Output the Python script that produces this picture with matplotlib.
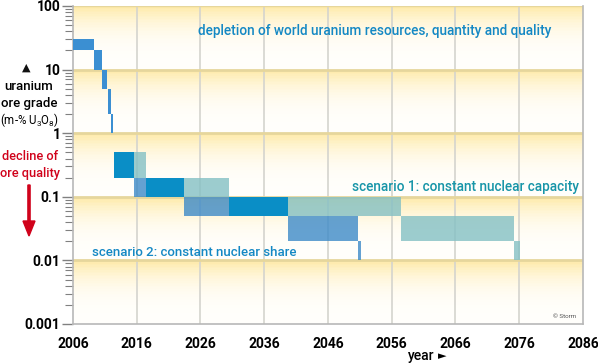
import numpy as np
import matplotlib
matplotlib.use('Agg')
import matplotlib.pyplot as plt
from matplotlib.colors import to_rgb

plt.rcParams['font.family'] = ['Roboto', 'DejaVu Sans']
plt.rcParams['mathtext.fontset'] = 'custom'
plt.rcParams['mathtext.rm'] = 'Roboto'

# early years, common to both scenarios: (start, end, low, high)
inicio_x0 = [2006.0, 2009.3, 2010.5, 2011.5, 2011.9]
inicio_x1 = [2009.3, 2010.5, 2011.4, 2011.9, 2012.2]
inicio_lo = [20, 10, 5, 2, 1]
inicio_hi = [30, 20, 10, 5, 2]

# both scenarios overlapping (dark blue)
comun_x0 = [2012.4, 2017.4, 2030.5]
comun_x1 = [2015.5, 2023.4, 2039.8]
comun_lo = [0.2, 0.1, 0.05]
comun_hi = [0.5, 0.2, 0.1]

# scenario 1: constant nuclear capacity
esc1_x0 = [2015.5, 2023.4, 2039.8, 2057.4, 2075.2]
esc1_x1 = [2017.4, 2030.5, 2057.4, 2075.2, 2076.1]
esc1_lo = [0.2, 0.1, 0.05, 0.02, 0.01]
esc1_hi = [0.5, 0.2, 0.1, 0.05, 0.02]

# scenario 2: constant nuclear share
esc2_x0 = [2015.5, 2023.4, 2039.8, 2050.7]
esc2_x1 = [2017.4, 2030.5, 2050.7, 2051.2]
esc2_lo = [0.1, 0.05, 0.02, 0.01]
esc2_hi = [0.2, 0.1, 0.05, 0.02]

anios = [2006, 2016, 2026, 2036, 2046, 2056, 2066, 2076, 2086]
decadas = [0.001, 0.01, 0.1, 1, 10, 100]
etiquetas_y = ['0.001', '0.01', '0.1', '1', '10', '100']

fig = plt.figure(figsize=(5.98, 3.64), dpi=100)
ax = fig.add_axes([73 / 598, 1 - 324 / 364, 510 / 598, 318 / 364])
ax.set_yscale('log')
ax.set_xlim(2006, 2086)
ax.set_ylim(0.001, 100)

# yellow gradient in every decade band (yellow on top, white below)
amarillo = np.array(to_rgb('#fee9a6'))
blanco = np.array(to_rgb('#fffefb'))
n = 40
for d in range(-3, 2):
    for k in range(n):
        t0 = d + k / n
        t1 = d + (k + 1) / n
        f = ((k + 0.5) / n) ** 3
        c = blanco + (amarillo - blanco) * f
        ax.axhspan(10 ** t0, 10 ** t1, color=c, lw=0, zorder=0)

for a in anios[1:-1]:
    ax.axvline(a, color='#d4d4ce', lw=1.2, zorder=1)
for d in decadas[1:-1]:
    ax.axhline(d, color='#e6d69c', lw=2, zorder=1)
ax.axhline(100, color='#e6d69c', lw=1, zorder=1)


def barras(x0, x1, lo, hi, color, alpha, z):
    for a, b, l, h in zip(x0, x1, lo, hi):
        ax.bar(a, h - l, width=b - a, bottom=l, align='edge', color=color,
               alpha=alpha, lw=0, zorder=z)


barras(inicio_x0, inicio_x1, inicio_lo, inicio_hi, '#3b8fd2', 1.0, 3)
barras(esc1_x0, esc1_x1, esc1_lo, esc1_hi, '#84c0c4', 0.8, 3)
barras(esc2_x0, esc2_x1, esc2_lo, esc2_hi, '#3d8ac8', 0.8, 3)
barras(comun_x0, comun_x1, comun_lo, comun_hi, '#0a8ec6', 1.0, 4)

ax.set_xticks(anios)
ax.set_xticklabels([str(a) for a in anios], fontsize=10, fontweight='bold')
ax.set_yticks(decadas)
ax.set_yticklabels(etiquetas_y, fontsize=10, fontweight='bold')
ax.tick_params(axis='x', length=0, pad=9)
ax.tick_params(axis='y', which='major', length=8, width=1, color='#808080', pad=1)
ax.tick_params(axis='y', which='minor', length=6, width=0.8, color='#808080')
ax.spines['top'].set_visible(False)
for s in ['left', 'bottom', 'right']:
    ax.spines[s].set_color('#b8b8b8')
    ax.spines[s].set_linewidth(1.2)

ax.text(2053.4, 40, 'depletion of world uranium resources, quantity and quality',
        color='#1488c4', fontsize=9.8, fontweight='medium', ha='center', va='center')
ax.text(2067.6, 0.145, 'scenario 1: constant nuclear capacity',
        color='#1795a8', fontsize=9.8, fontweight='medium', ha='center', va='center')
ax.text(2025.0, 0.0135, 'scenario 2: constant nuclear share',
        color='#1488c4', fontsize=9.5, fontweight='medium', ha='center', va='center')
ax.text(2085, 0.0013, '© Storm', color='#555555', fontsize=4.5, ha='right', va='center')

# left side labels
fig.text(26 / 598, 1 - 68 / 364, '▲', fontsize=8, ha='center', va='center', color='#111111', family='DejaVu Sans')
fig.text(29 / 598, 1 - 87 / 364, 'uranium', fontsize=9.5, fontweight='medium', ha='center', va='center')
fig.text(29 / 598, 1 - 104 / 364, 'ore grade', fontsize=9.5, fontweight='medium', ha='center', va='center')
fig.text(30 / 598, 1 - 120 / 364, r'(m-% U$_3$O$_8$)', fontsize=8.3, ha='center', va='center')
fig.text(30 / 598, 1 - 156 / 364, 'decline of', fontsize=9.2, fontweight='medium', ha='center', va='center', color='#d0021b')
fig.text(30 / 598, 1 - 173 / 364, 'ore quality', fontsize=9.2, fontweight='medium', ha='center', va='center', color='#d0021b')
fig.patches.append(matplotlib.patches.FancyArrow(
    29 / 598, 1 - 185 / 364, 0, -51 / 364, width=2.2 / 598, head_width=12 / 598,
    head_length=15 / 364, length_includes_head=True, color='#d0021b',
    transform=fig.transFigure, figure=fig))
fig.text(421 / 598, 1 - 356 / 364, 'year', fontsize=10, fontweight='medium', ha='center', va='center')
fig.text(442 / 598, 1 - 356 / 364, '►', fontsize=8, ha='center', va='center', family='DejaVu Sans')

fig.savefig('out.png', dpi=100)
